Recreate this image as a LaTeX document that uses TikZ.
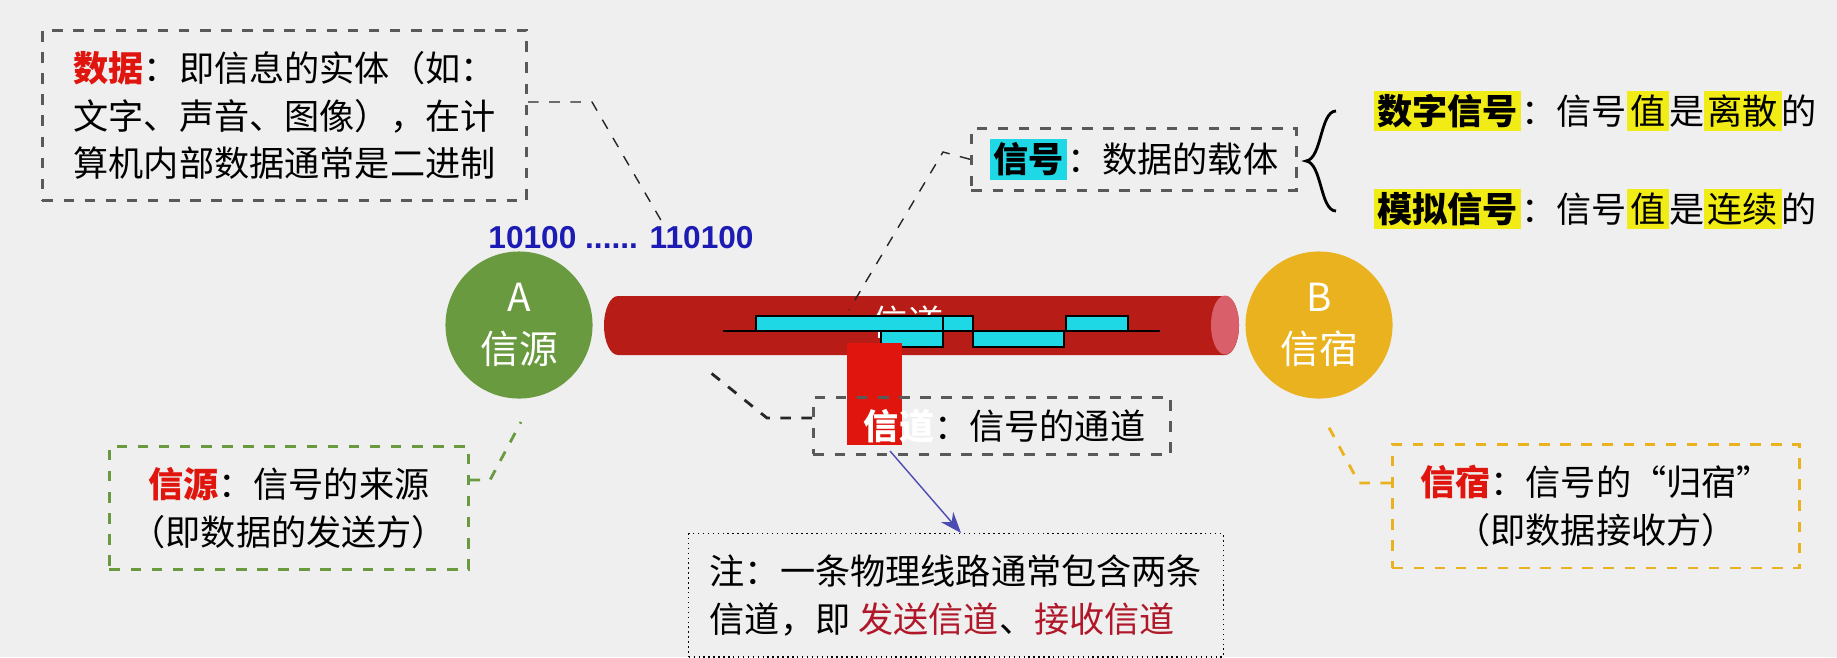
\documentclass[tikz,border=0pt]{standalone}
\usepackage{fontspec}
\setmainfont{Noto Sans CJK SC}
\setsansfont{Liberation Sans}
\usetikzlibrary{arrows.meta}
\definecolor{bgc}{HTML}{EFEFEF}
\definecolor{srcgreen}{HTML}{6A9A3F}
\definecolor{sinkgold}{HTML}{E9B21E}
\definecolor{pipered}{HTML}{B81C17}
\definecolor{pipeend}{HTML}{D9606A}
\definecolor{wavecyan}{HTML}{1ED8E6}
\definecolor{keyred}{HTML}{E0160E}
\definecolor{notered}{HTML}{B0182A}
\definecolor{hlyellow}{HTML}{F2EC16}
\definecolor{bitblue}{HTML}{1C1CB4}
\newcommand{\kw}[1]{\textcolor{keyred}{\textbf{#1}}}
\newcommand{\hl}[1]{{\fboxsep=1pt\colorbox{hlyellow}{#1}}}
\begin{document}
\begin{tikzpicture}[x=0.01cm,y=-0.01cm,font=\fontsize{10}{13.5}\selectfont,
    callout/.style={draw=gray!70!black,dashed,thick,inner sep=6pt,align=left},
    leader/.style={gray!30!black,dashed},
    station/.style={circle,minimum size=1.47cm,text=white,align=center,inner sep=0pt,font=\fontsize{11}{15}\selectfont},
    waveblock/.style={fill=wavecyan,draw=black,thin}]
    \fill[bgc] (0,0) rectangle (1837,657);
    \useasboundingbox (0,0) rectangle (1837,657);
    % stations
    \node[station,fill=srcgreen] (A) at (519,325) {A\\信源};
    \node[station,fill=sinkgold] (B) at (1319,325) {B\\信宿};
    % channel pipe
    \fill[pipered] (618,296) -- (1225,296) arc[x radius=14,y radius=29.5,start angle=-90,end angle=90] -- (618,355) arc[x radius=14,y radius=29.5,start angle=90,end angle=270];
    \fill[pipeend] (1225,325) ellipse[x radius=14,y radius=29.5];
    \node[text=white] (pipe) at (908,322) {信道};
    \draw[thin] (723,331) -- (1160,331);
    \draw[waveblock] (756,316) rectangle (943,331);
    \draw[waveblock] (943,316) rectangle (973,331);
    \draw[waveblock] (881,331) rectangle (943,347);
    \draw[waveblock] (973,331) rectangle (1064,347);
    \draw[waveblock] (1066,316) rectangle (1128,331);
    \fill[keyred] (847,343) rectangle (902,445);
    % data
    \node[callout,minimum width=4.84cm,minimum height=1.35cm,anchor=north west] (data) at (41,29)
      {\kw{数据}：即信息的实体（如：\\文字、声音、图像），在计\\算机内部数据通常是二进制};
    \node[text=bitblue,font=\sffamily\bfseries\fontsize{9}{11}\selectfont] (bits) at (621,238) {10100 ...... 110100};
    \coordinate (dk) at (592,102);
    \coordinate (dt) at (662,222);
    \draw[leader] (data.east |- dk) -- (dk) -- (dt);
    % signal
    \node[callout,minimum width=3.25cm,minimum height=0.52cm,anchor=north west,inner sep=3pt] (sig) at (970,127)
      {{\fboxsep=1pt\colorbox{wavecyan}{\textbf{信号}}}：数据的载体};
    \coordinate (sk) at (943,152);
    \draw[leader] (sig.west) -- (sk) -- (849,310);
    \draw[thick] (1336,111) .. controls (1320,111) and (1322,159) .. (1306,161)
      .. controls (1322,163) and (1320,211) .. (1336,211);
    \node[anchor=west,inner sep=0pt] (digi) at (1373,111)
      {\hl{\textbf{数字信号}}：信号\hl{值}是\hl{离散}的};
    \node[anchor=west,inner sep=0pt] (anal) at (1373,209)
      {\hl{\textbf{模拟信号}}：信号\hl{值}是\hl{连续}的};
    % channel
    \node[callout,minimum width=3.57cm,minimum height=0.57cm,anchor=north west,inner sep=0pt] (chan) at (812,396)
      {\hspace{0.25cm}\textcolor{white}{\textbf{信道}}：信号的通道};
    \coordinate (ck) at (767,418);
    \draw[leader,thick] (chan.west |- ck) -- (ck) -- (706,369);
    % note
    \node[draw,densely dotted,inner sep=6pt,align=left,minimum width=5.19cm,minimum height=1cm,anchor=north west] (note) at (688,533)
      {注：一条物理线路通常包含两条\\信道，即 \textcolor{notered}{发送信道}、\textcolor{notered}{接收信道}};
    \draw[-{Stealth[length=6pt]},blue!40!gray] (890,451) -- (961,533);
    % source and sink
    \node[callout,draw=srcgreen,minimum width=3.58cm,minimum height=1cm,anchor=north west,align=center] (src) at (108,445)
      {\kw{信源}：信号的来源\\（即数据的发送方）};
    \coordinate (rk) at (490,480);
    \draw[leader,srcgreen,thick] (src.east |- rk) -- (rk) -- (521,422);
    \node[callout,draw=sinkgold,minimum width=4.07cm,minimum height=1.02cm,anchor=north west,align=center] (snk) at (1391,443)
      {\kw{信宿}：信号的“归宿”\\（即数据接收方）};
    \coordinate (nk) at (1359,483);
    \draw[leader,sinkgold,thick] (snk.west |- nk) -- (nk) -- (1326,422);
\end{tikzpicture}
\end{document}
